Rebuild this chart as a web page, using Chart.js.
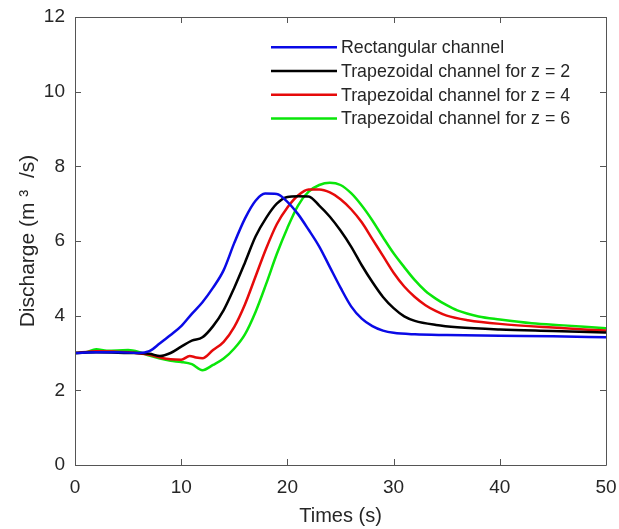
<!DOCTYPE html>
<html>
<head>
<meta charset="utf-8">
<script src="https://cdn.jsdelivr.net/npm/chart.js@4/dist/chart.umd.min.js"></script>
<style>
html,body{margin:0;padding:0;background:#fff;}
#wrap{width:619px;height:529px;}
</style>
</head>
<body>
<div id="wrap"><canvas id="c" width="619" height="529"></canvas></div>
<script>
const seriesLabels = ["Rectangular channel","Trapezoidal channel for z = 2","Trapezoidal channel for z = 4","Trapezoidal channel for z = 6"];
const seriesColors = ["#0a0ae6","#000000","#e60a0a","#0ae60a"];

const tRect = [0,2,4,6,7,8,9,10,11,12,13,14,15,16,17,17.9,19,20,21,22,23,24,25,26,27,28,29,30,32,35,40,45,50];
const qRect = [3.0,3.02,3.02,3.0,3.05,3.26,3.48,3.72,4.05,4.36,4.75,5.22,5.95,6.6,7.08,7.27,7.26,7.05,6.72,6.3,5.85,5.3,4.75,4.25,3.92,3.72,3.6,3.54,3.5,3.48,3.46,3.45,3.42];

const tZ2 = [0,2,5,7,8,9,10,11,12,13,14,15,16,17,18,19,20,21,22,23,24,25,26,27,28,29,30,31,32,34,36,40,45,50];
const qZ2 = [3.0,3.02,3.0,2.98,2.92,3.0,3.17,3.33,3.42,3.72,4.15,4.75,5.42,6.12,6.62,7.0,7.18,7.2,7.19,6.95,6.65,6.28,5.85,5.35,4.9,4.5,4.2,3.98,3.86,3.75,3.69,3.63,3.59,3.55];

const tZ4 = [0,2,5,7,8,9,10,10.8,11.4,12,13,14,15,16,17,18,19,20,21,22,23,24,25,26,27,28,29,30,31,32,33,34,35,37,40,45,50];
const qZ4 = [3.0,3.05,3.02,2.95,2.88,2.83,2.82,2.92,2.88,2.86,3.08,3.3,3.7,4.3,5.05,5.8,6.45,6.9,7.22,7.38,7.38,7.3,7.12,6.85,6.5,6.05,5.6,5.15,4.78,4.5,4.28,4.12,4.0,3.88,3.78,3.68,3.6];

const tZ6 = [0,1,2,3,5,6,7,8,9,10,11,12,13,14,15,16,17,18,19,20,21,22,23,24,25,26,27,28,29,30,31,32,33,34,35,36,38,40,43,46,50];
const qZ6 = [3.0,3.02,3.1,3.06,3.08,3.03,2.93,2.85,2.79,2.76,2.7,2.54,2.68,2.85,3.12,3.5,4.1,4.85,5.65,6.35,6.95,7.32,7.5,7.56,7.5,7.28,6.95,6.55,6.1,5.67,5.3,4.95,4.66,4.45,4.28,4.14,3.98,3.9,3.8,3.74,3.66];

const xTicks = [0,10,20,30,40,50];
const yTicks = [0,2,4,6,8,10,12];

const allT = [tRect,tZ2,tZ4,tZ6];
const allQ = [qRect,qZ2,qZ4,qZ6];

const datasets = seriesLabels.map((lab,i)=>({
  label: lab,
  data: allT[i].map((t,j)=>({x:t,y:allQ[i][j]})),
  borderColor: seriesColors[i],
  backgroundColor: seriesColors[i],
  borderWidth: 2.5,
  pointRadius: 0,
  tension: 0.4,
  cubicInterpolationMode: 'monotone',
  fill: false
}));

const axisColor = '#555555';
const textColor = '#262626';
const fontFam = "'Liberation Sans', Arial, sans-serif";

const boxPlugin = {
  id: 'box',
  afterDatasetsDraw(chart){
    const ctx = chart.ctx;
    const a = chart.chartArea;
    const xs = chart.scales.x, ys = chart.scales.y;
    ctx.save();
    ctx.strokeStyle = axisColor;
    ctx.lineWidth = 1;
    ctx.beginPath();
    ctx.rect(Math.round(a.left)+0.5, Math.round(a.top)+0.5, Math.round(a.right-a.left), Math.round(a.bottom-a.top));
    ctx.stroke();
    const tl = 6;
    ctx.beginPath();
    xTicks.forEach(v=>{
      const px = Math.round(xs.getPixelForValue(v))+0.5;
      ctx.moveTo(px,a.bottom); ctx.lineTo(px,a.bottom-tl);
      ctx.moveTo(px,a.top); ctx.lineTo(px,a.top+tl);
    });
    yTicks.forEach(v=>{
      const py = Math.round(ys.getPixelForValue(v))+0.5;
      ctx.moveTo(a.left,py); ctx.lineTo(a.left+tl,py);
      ctx.moveTo(a.right,py); ctx.lineTo(a.right-tl,py);
    });
    ctx.stroke();
    // legend
    const lx0 = a.left + 196, lx1 = a.left + 262;
    ctx.font = "17.8px " + fontFam;
    ctx.textBaseline = 'middle';
    ctx.textAlign = 'left';
    chart.data.datasets.forEach((ds,i)=>{
      const y = a.top + 30.3 + i*23.7;
      ctx.strokeStyle = ds.borderColor;
      ctx.lineWidth = 2.5;
      ctx.beginPath(); ctx.moveTo(lx0,y); ctx.lineTo(lx1,y); ctx.stroke();
      ctx.fillStyle = textColor;
      ctx.fillText(ds.label, lx1+4, y+1);
    });
    ctx.restore();
  }
};

new Chart(document.getElementById('c'), {
  type: 'line',
  data: { datasets },
  options: {
    responsive: false,
    animation: false,
    layout: { padding: { left: 14, right: 13, top: 17, bottom: 0 } },
    plugins: { legend: { display: false }, tooltip: { enabled: false } },
    scales: {
      x: {
        type: 'linear', min: 0, max: 50,
        afterBuildTicks(s){ s.ticks = xTicks.map(v=>({value:v})); },
        afterFit(s){ s.height = 64; s.paddingLeft = 0; s.paddingRight = 0; },
        grid: { display: false, drawTicks: false },
        border: { display: false },
        ticks: { color: textColor, font: { family: fontFam, size: 19 }, padding: 11, maxRotation: 0 },
        title: { display: true, text: 'Times (s)', color: textColor, font: { family: fontFam, size: 20 }, padding: { top: 0, bottom: 1 } }
      },
      y: {
        type: 'linear', min: 0, max: 12,
        afterBuildTicks(s){ s.ticks = yTicks.map(v=>({value:v})); },
        afterFit(s){ s.width = 61; s.paddingTop = 0; s.paddingBottom = 0; },
        grid: { display: false, drawTicks: false },
        border: { display: false },
        ticks: { color: textColor, font: { family: fontFam, size: 19 }, padding: 10 },
        title: { display: true, text: 'Discharge (m ³  /s)', color: textColor, font: { family: fontFam, size: 21 }, padding: { top: 2, bottom: 0 } }
      }
    }
  },
  plugins: [boxPlugin]
});
</script>
</body>
</html>
